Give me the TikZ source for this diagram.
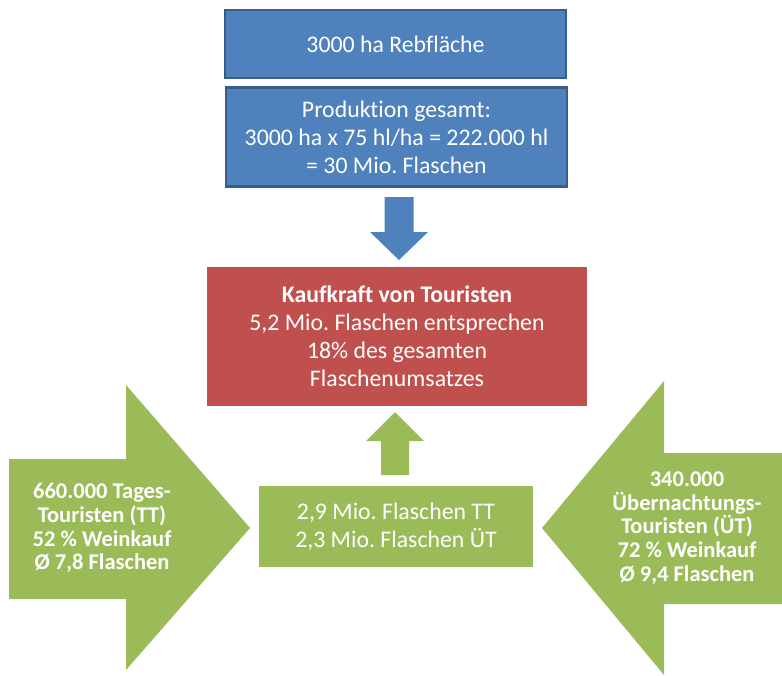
\documentclass[tikz,border=0pt]{standalone}
\usepackage{fontspec}
\setmainfont[Ligatures=NoCommon]{Carlito}
\usetikzlibrary{calc}
\definecolor{boxblue}{HTML}{4F81BD}
\definecolor{boxblueline}{HTML}{385D8A}
\definecolor{boxred}{HTML}{C0504D}
\definecolor{boxgreen}{HTML}{9BBB59}
\frenchspacing
\tikzstyle{every picture} = [x=1pt, y=-1pt]
\tikzstyle{bluebox} = [draw=boxblueline, line width=2.5pt, fill=boxblue, text=white, align=center, inner sep=0pt, minimum width=341pt, font=\fontsize{23.8}{28}\selectfont]
\tikzstyle{flowbox} = [text=white, align=center, inner sep=0pt, font=\fontsize{23.8}{28}\selectfont]
\tikzstyle{arrowtext} = [text=white, align=center, inner sep=0pt, font=\bfseries\fontsize{22.5}{23.8}\selectfont]

\begin{document}
\begin{tikzpicture}
            \useasboundingbox (0,0) rectangle (782,675);

            % boxes
            \node (rebflaeche) at(395.5,44) [bluebox, minimum height=68pt] {3000 ha Rebfläche};
            \node (produktion) at(396.5,137) [bluebox, minimum height=99pt] {Produktion gesamt:\\3000 ha x 75 hl/ha = 222.000 hl\\= 30 Mio. Flaschen};
            \node (kaufkraft) at(397,336.5) [flowbox, fill=boxred, minimum width=380pt, minimum height=139pt] {\textbf{Kaufkraft von Touristen}\\5,2 Mio. Flaschen entsprechen\\18\% des gesamten\\Flaschenumsatzes};
            \node (flaschen) at(396,526.5) [flowbox, fill=boxgreen, minimum width=274pt, minimum height=81pt] {2,9 Mio. Flaschen TT\\2,3 Mio. Flaschen ÜT};

            % block arrows
            \coordinate (bluetip) at (399,260);
            \coordinate (greentip) at (395,412);
            \coordinate (lefttip) at (250,528);
            \coordinate (righttip) at (542,528);
            \fill[boxblue] (384.5,197) -- (413.5,197) -- (413.5,232) -- (428,232) -- (bluetip) -- (370,232) -- (384.5,232) -- cycle;
            \fill[boxgreen] (381,475) -- (409,475) -- (409,441) -- (424,441) -- (greentip) -- (366,441) -- (381,441) -- cycle;
            \fill[boxgreen] (9,459) -- (126,459) -- (126,385) -- (lefttip) -- (126,670) -- (126,599) -- (9,599) -- cycle;
            \fill[boxgreen] (782,453) -- (664,453) -- (664,381) -- (righttip) -- (664,675) -- (664,604) -- (782,604) -- cycle;

            \node (tagestouristen) at(102,528) [arrowtext] {660.000 Tages-\\Touristen (TT)\\52 \% Weinkauf\\Ø 7,8 Flaschen};
            \node (uebernachtung) at(687,528) [arrowtext] {340.000\\Übernachtungs-\\Touristen (ÜT)\\72 \% Weinkauf\\Ø 9,4 Flaschen};

        \end{tikzpicture}
\end{document}
